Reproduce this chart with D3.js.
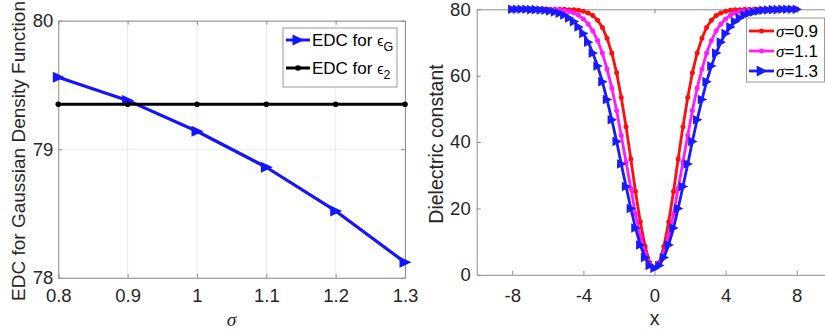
<!DOCTYPE html>
<html>
<head>
<meta charset="utf-8">
<script src="https://cdn.jsdelivr.net/npm/d3@7"></script>
<style>
  body { margin: 0; background: #fff; }
  svg { display: block; font-family: "Liberation Sans", Arial, sans-serif; }
</style>
</head>
<body>
<svg id="chart" width="825" height="335"></svg>
<script>
// ---- Left panel: EDC against sigma ----
const sigmaValues = [0.8, 0.9, 1.0, 1.1, 1.2, 1.3];
const edcGaussian = [79.56, 79.38, 79.14, 78.86, 78.52, 78.12];
const edcEps2 = [79.35, 79.35, 79.35, 79.35, 79.35, 79.35];
const sigmaTicks = [0.8, 0.9, 1.0, 1.1, 1.2, 1.3];
const edcTicks = [78, 79, 80];

// ---- Right panel: dielectric profiles ----
const xGrid = [-8, -7.73, -7.47, -7.2, -6.93, -6.67, -6.4, -6.13, -5.87, -5.6, -5.33, -5.07,
  -4.8, -4.53, -4.27, -4, -3.73, -3.47, -3.2, -2.93, -2.67, -2.4, -2.13, -1.87, -1.6, -1.33,
  -1.07, -0.8, -0.53, -0.27, 0, 0.27, 0.53, 0.8, 1.07, 1.33, 1.6, 1.87, 2.13, 2.4, 2.67, 2.93,
  3.2, 3.47, 3.73, 4, 4.27, 4.53, 4.8, 5.07, 5.33, 5.6, 5.87, 6.13, 6.4, 6.67, 6.93, 7.2, 7.47,
  7.73, 8];
const epsSigma09 = [80, 80, 80, 80, 80, 80, 80, 80, 80, 80, 80, 80,
  79.9, 79.9, 79.7, 79.4, 78.9, 78.1, 76.7, 74.5, 71.3, 66.8, 60.9, 53.4, 44.6, 34.9, 25.1, 16.0, 8.6, 3.7,
  2.0,
  3.7, 8.6, 16.0, 25.1, 34.9, 44.6, 53.4, 60.9, 66.8, 71.3, 74.5, 76.7, 78.1, 78.9, 79.4, 79.7, 79.9, 79.9,
  80, 80, 80, 80, 80, 80, 80, 80, 80, 80, 80, 80];
const epsSigma11 = [80, 80, 80, 80, 80, 80, 80, 80,
  79.9, 79.9, 79.8, 79.6, 79.3, 78.9, 78.2, 77.1, 75.6, 73.5, 70.6, 66.8, 62.0, 56.3, 49.5, 42.0, 34.0, 26.0, 18.3, 11.7, 6.5, 3.1,
  2.0,
  3.1, 6.5, 11.7, 18.3, 26.0, 34.0, 42.0, 49.5, 56.3, 62.0, 66.8, 70.6, 73.5, 75.6, 77.1, 78.2, 78.9, 79.3, 79.6, 79.8, 79.9, 79.9,
  80, 80, 80, 80, 80, 80, 80, 80];
const epsSigma13 = [80, 80, 80, 80,
  79.9, 79.9, 79.8, 79.7, 79.5, 79.2, 78.8, 78.3, 77.4, 76.3, 74.7, 72.7, 70.1, 66.8, 62.9, 58.2, 52.8, 46.7, 40.2, 33.4, 26.6, 20.0, 14.1, 9.0, 5.2, 2.8,
  2.0,
  2.8, 5.2, 9.0, 14.1, 20.0, 26.6, 33.4, 40.2, 46.7, 52.8, 58.2, 62.9, 66.8, 70.1, 72.7, 74.7, 76.3, 77.4, 78.3, 78.8, 79.2, 79.5, 79.7, 79.8, 79.9, 79.9,
  80, 80, 80, 80];
const profileLabels = ["0.9", "1.1", "1.3"];
const xTicks = [-8, -4, 0, 4, 8];
const epsTicks = [0, 20, 40, 60, 80];

const AXIS_COLOR = "#8e8e8e";
const TEXT_COLOR = "#262626";
const TICK_FONT = 18.5;
const LABEL_FONT = 19.5;
const LEGEND_FONT = 17;

const svg = d3.select("#chart");

// right-pointing triangle marker path
function triPath(w, h) {
  return `M${-w},${-h}L${w + 1},0L${-w},${h}Z`;
}

function drawFrame(g, x, y, xt, yt, opts) {
  const [x0, x1] = x.range();
  const [y0, y1] = y.range();
  if (opts.grid) {
    g.append("g").selectAll("line.gx").data(xt).join("line")
      .attr("x1", d => x(d)).attr("x2", d => x(d)).attr("y1", y0).attr("y2", y1)
      .attr("stroke", "#ebebeb").attr("stroke-width", 1);
    g.append("g").selectAll("line.gy").data(yt).join("line")
      .attr("x1", x0).attr("x2", x1).attr("y1", d => y(d)).attr("y2", d => y(d))
      .attr("stroke", "#ebebeb").attr("stroke-width", 1);
  }
  const axes = [
    g.append("g").attr("transform", `translate(0,${y0})`)
      .call(d3.axisBottom(x).tickValues(xt).tickFormat(opts.xfmt).tickSizeInner(-4).tickSizeOuter(0).tickPadding(opts.xPad)),
    g.append("g").attr("transform", `translate(0,${y1})`)
      .call(d3.axisTop(x).tickValues(xt).tickFormat("").tickSizeInner(-4).tickSizeOuter(0)),
    g.append("g").attr("transform", `translate(${x0},0)`)
      .call(d3.axisLeft(y).tickValues(yt).tickFormat(opts.yfmt).tickSizeInner(-4).tickSizeOuter(0).tickPadding(opts.yPad)),
    g.append("g").attr("transform", `translate(${x1},0)`)
      .call(d3.axisRight(y).tickValues(yt).tickFormat("").tickSizeInner(-4).tickSizeOuter(0))
  ];
  axes.forEach(a => {
    a.attr("font-family", null).attr("font-size", TICK_FONT);
    a.select(".domain").attr("stroke", AXIS_COLOR).attr("stroke-width", 1);
    a.selectAll(".tick line").attr("stroke", AXIS_COLOR).attr("stroke-width", 1);
    a.selectAll(".tick text").attr("fill", TEXT_COLOR);
  });
}

// ================= Left panel =================
const xL = d3.scaleLinear().domain([0.8, 1.3]).range([58.3, 405]);
const yL = d3.scaleLinear().domain([78, 80]).range([277.8, 20.7]);
const gL = svg.append("g");
drawFrame(gL, xL, yL, sigmaTicks, edcTicks, {
  grid: true, xfmt: d => String(d), yfmt: d => String(d), xPad: 11, yPad: 5
});

const lineL = d3.line().x((d, i) => xL(sigmaValues[i])).y(d => yL(d));
gL.append("path").datum(edcGaussian).attr("d", lineL)
  .attr("fill", "none").attr("stroke", "#1414ff").attr("stroke-width", 3.2).attr("stroke-linejoin", "round");
gL.append("g").selectAll("path").data(edcGaussian).join("path")
  .attr("d", triPath(5.5, 5.5))
  .attr("transform", (d, i) => `translate(${xL(sigmaValues[i])},${yL(d)})`)
  .attr("fill", "#1414ff");
gL.append("path").datum(edcEps2).attr("d", lineL)
  .attr("fill", "none").attr("stroke", "#000").attr("stroke-width", 3);
gL.append("g").selectAll("circle").data(edcEps2).join("circle")
  .attr("cx", (d, i) => xL(sigmaValues[i])).attr("cy", d => yL(d)).attr("r", 2.8).attr("fill", "#000");

// axis titles
gL.append("text").attr("transform", `translate(25,151) rotate(-90)`)
  .attr("text-anchor", "middle").attr("font-size", 19).attr("fill", TEXT_COLOR)
  .text("EDC for Gaussian Density Function");
gL.append("text").attr("x", 231.6).attr("y", 326)
  .attr("text-anchor", "middle").attr("font-size", LABEL_FONT).attr("font-style", "italic")
  .attr("font-family", "Liberation Serif, serif").attr("fill", TEXT_COLOR).text("σ");

// legend
const legL = gL.append("g");
legL.append("rect").attr("x", 283).attr("y", 28).attr("width", 114).attr("height", 59)
  .attr("fill", "#fff").attr("stroke", "#9a9a9a").attr("stroke-width", 1);
const legLRows = [
  { color: "#1414ff", marker: "tri", sub: "G", y: 40 },
  { color: "#000", marker: "dot", sub: "2", y: 68 }
];
legLRows.forEach(r => {
  legL.append("line").attr("x1", 286).attr("x2", 310).attr("y1", r.y).attr("y2", r.y)
    .attr("stroke", r.color).attr("stroke-width", 3);
  if (r.marker === "tri") {
    legL.append("path").attr("d", triPath(5.5, 5.5)).attr("transform", `translate(298,${r.y})`).attr("fill", r.color);
  } else {
    legL.append("circle").attr("cx", 298).attr("cy", r.y).attr("r", 2.8).attr("fill", r.color);
  }
  const t = legL.append("text").attr("x", 312).attr("y", r.y + 5.5)
    .attr("font-size", LEGEND_FONT).attr("fill", "#000");
  t.append("tspan").text("EDC for ");
  t.append("tspan").attr("font-size", 14).text("ϵ");
  t.append("tspan").attr("dy", 5).attr("font-size", 12.5).text(r.sub);
});

// ================= Right panel =================
const xR = d3.scaleLinear().domain([-10, 10]).range([476.7, 832.3]);
const yR = d3.scaleLinear().domain([0, 80]).range([274.8, 9.3]);
const gR = svg.append("g");
drawFrame(gR, xR, yR, xTicks, epsTicks, {
  grid: false, xfmt: d => String(d), yfmt: d => String(d), xPad: 14, yPad: 6
});

const profiles = [
  { values: epsSigma09, color: "#ff0d0d", marker: "dot" },
  { values: epsSigma11, color: "#ff1aff", marker: "dot" },
  { values: epsSigma13, color: "#1a1aff", marker: "tri" }
];
const lineR = d3.line().x((d, i) => xR(xGrid[i])).y(d => yR(d));
profiles.forEach(p => {
  gR.append("path").datum(p.values).attr("d", lineR)
    .attr("fill", "none").attr("stroke", p.color).attr("stroke-width", 2.8).attr("stroke-linejoin", "round");
  if (p.marker === "dot") {
    gR.append("g").selectAll("circle").data(p.values).join("circle")
      .attr("cx", (d, i) => xR(xGrid[i])).attr("cy", d => yR(d)).attr("r", 2.5).attr("fill", p.color);
  } else {
    gR.append("g").selectAll("path").data(p.values).join("path")
      .attr("d", triPath(4.2, 4.8))
      .attr("transform", (d, i) => `translate(${xR(xGrid[i])},${yR(d)})`)
      .attr("fill", p.color);
  }
});

gR.append("text").attr("transform", `translate(443,144) rotate(-90)`)
  .attr("text-anchor", "middle").attr("font-size", LABEL_FONT).attr("fill", TEXT_COLOR)
  .text("Dielectric constant");
gR.append("text").attr("x", 654.5).attr("y", 325)
  .attr("text-anchor", "middle").attr("font-size", LABEL_FONT).attr("fill", TEXT_COLOR).text("x");

// legend
const legR = gR.append("g");
legR.append("rect").attr("x", 746.5).attr("y", 18).attr("width", 78).attr("height", 64)
  .attr("fill", "#fff").attr("stroke", "#9a9a9a").attr("stroke-width", 1);
profiles.forEach((p, i) => {
  const yy = 31 + i * 20;
  legR.append("line").attr("x1", 749).attr("x2", 774).attr("y1", yy).attr("y2", yy)
    .attr("stroke", p.color).attr("stroke-width", 2.8);
  if (p.marker === "dot") {
    legR.append("circle").attr("cx", 761.5).attr("cy", yy).attr("r", 2.5).attr("fill", p.color);
  } else {
    legR.append("path").attr("d", triPath(4.8, 5.4)).attr("transform", `translate(761.5,${yy})`).attr("fill", p.color);
  }
  const t = legR.append("text").attr("x", 776).attr("y", yy + 6)
    .attr("font-size", LEGEND_FONT).attr("fill", "#000");
  t.append("tspan").attr("font-style", "italic").attr("font-family", "Liberation Serif, serif").text("σ");
  t.append("tspan").text("=" + profileLabels[i]);
});
</script>
</body>
</html>
